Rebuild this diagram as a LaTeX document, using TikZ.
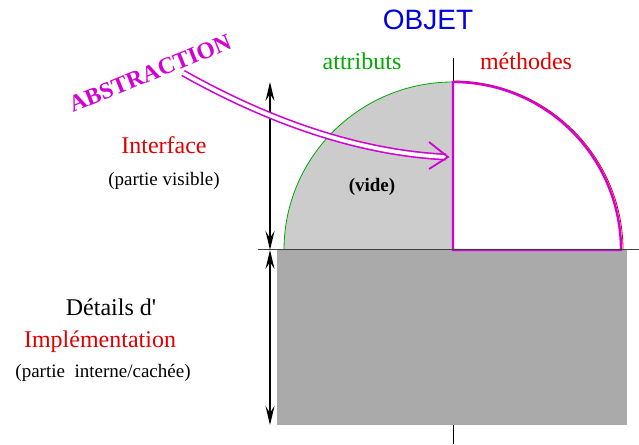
\documentclass[tikz,border=0pt]{standalone}
\usepackage{fontspec}
\setmainfont{Liberation Serif}
\newfontfamily\objfont{Liberation Sans}
\usetikzlibrary{arrows.meta}
\definecolor{mymag}{RGB}{210,0,210}
\definecolor{myred}{RGB}{225,0,0}
\definecolor{mygreen}{RGB}{0,170,0}
\definecolor{myblue}{RGB}{0,0,225}
\definecolor{lgray}{RGB}{204,204,204}
\definecolor{dgray}{RGB}{170,170,170}
\tikzset{
  big/.style={font=\fontsize{24}{28}\selectfont, inner sep=0pt, anchor=base},
  small/.style={font=\fontsize{19}{22}\selectfont, inner sep=0pt, anchor=base},
  dimarrow/.style={line width=1.2pt, {Stealth[length=19pt,width=9pt,inset=7pt]}-{Stealth[length=19pt,width=9pt,inset=7pt]}},
}
\begin{document}
\begin{tikzpicture}[x=1pt,y=1pt]
\useasboundingbox (0,0) rectangle (639,444);
% axis
\coordinate (axtop) at (453,386);
\coordinate (axbot) at (453,0);
\draw[line width=0.8pt] (axtop) -- (axbot);
% implementation block
\fill[dgray] (277,19) rectangle (627,194);
% left quarter (attributs)
\coordinate (c) at (453,194);
\fill[lgray] (284,194) arc[start angle=180,end angle=90,x radius=169,y radius=168] -- (c) -- cycle;
\draw[mygreen, line width=0.8pt] (284,194) arc[start angle=180,end angle=90,x radius=169,y radius=168];
% right quarter (methodes)
\draw[myred, line width=0.8pt] (453,363) arc[start angle=90,end angle=0,x radius=170,y radius=169];
\draw[mymag, line width=2.4pt, line join=miter] (c) -- (453,362) arc[start angle=90,end angle=0,x radius=168,y radius=168] -- cycle;
% horizontal line
\coordinate (hl) at (258,194);
\coordinate (hr) at (639,194);
\draw[black!75, line width=1pt] (hl) -- (hr);
% dimension arrows
\coordinate (d1) at (270,362);
\coordinate (d2) at (270,194);
\coordinate (d3) at (270,19);
\draw[dimarrow] (d1) -- (d2);
\draw[dimarrow] (d2) -- (d3);
% abstraction arrow
\coordinate (as) at (183,371);
\coordinate (ae) at (446,287);
\coordinate (tip) at (448,287);
\coordinate (b1) at (429,302);
\coordinate (b2) at (429,275);
\draw[mymag, line width=1.6pt, double=white, double distance=3.8pt] (as) .. controls (270,322) and (360,291) .. (ae);
\draw[mymag, line width=1.8pt] (b1) -- (tip) -- (b2);
% texts
\node[anchor=base, inner sep=0pt, font=\objfont\fontsize{28}{32}\selectfont, text=myblue] (objet) at (428,414) {OBJET};
\node[big, text=mygreen] (attr) at (362,374) {attributs};
\node[big, text=myred] (meth) at (526,374) {méthodes};
\node[big, text=myred] (intf) at (164,290) {Interface};
\node[small] (vis) at (164,258) {(partie visible)};
\node[small, font=\bfseries\fontsize{19}{22}\selectfont] (vide) at (372,252) {(vide)};
\node[big] (det) at (111,128) {Détails d\textquotesingle};
\node[big, text=myred] (impl) at (100,96) {Implémentation};
\node[small] (cach) at (103,66) {(partie~~interne/cachée)};
\node[text=mymag, font=\bfseries\fontsize{23.5}{27}\selectfont, rotate=22, inner sep=0pt] (abs) at (150,371) {ABSTRACTION};
\end{tikzpicture}
\end{document}
